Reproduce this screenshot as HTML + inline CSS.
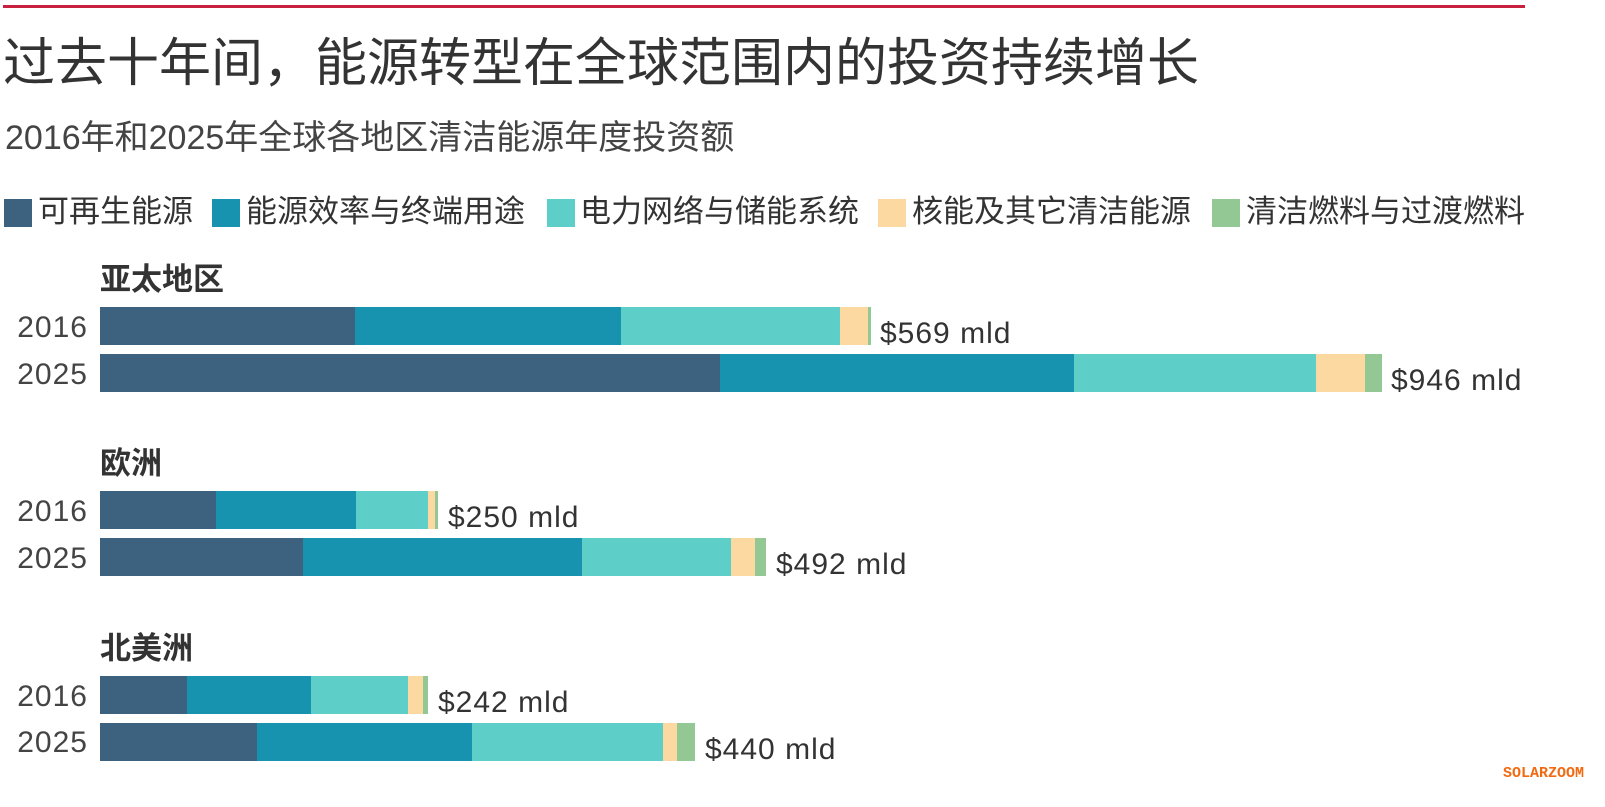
<!DOCTYPE html>
<html><head><meta charset="utf-8"><style>
body{margin:0;width:1605px;height:807px;background:#fff;position:relative;overflow:hidden;font-family:"Liberation Sans","Noto Sans CJK SC",sans-serif;color:#333}
.a{position:absolute;white-space:nowrap}
.b{position:absolute;height:38px}
.sq{position:absolute;width:28px;height:28px;top:199px}
.lg{position:absolute;top:193px;font-size:31px;line-height:38px;white-space:nowrap}
.yr{position:absolute;width:74px;left:14px;text-align:right;font-size:30px;letter-spacing:1px;line-height:38px;color:#444}
.rg{position:absolute;left:100px;font-size:31px;font-weight:bold;line-height:36px;color:#333;white-space:nowrap}
.v{position:absolute;font-size:30px;letter-spacing:1px;line-height:38px;color:#333;white-space:nowrap}
</style></head><body>
<div class="a" style="left:3px;top:5px;width:1522px;height:3px;background:#c8203f"></div>
<div class="a" style="left:3px;top:29px;font-size:52px;line-height:70px;color:#333">过去十年间，能源转型在全球范围内的投资持续增长</div>
<div class="a" style="left:5px;top:117px;font-size:34px;line-height:42px;color:#444">2016年和2025年全球各地区清洁能源年度投资额</div>
<div class="sq" style="left:4px;background:#3d627f"></div><div class="lg" style="left:38px">可再生能源</div>
<div class="sq" style="left:212px;background:#1793b0"></div><div class="lg" style="left:246px">能源效率与终端用途</div>
<div class="sq" style="left:547px;background:#5ecfc8"></div><div class="lg" style="left:580px">电力网络与储能系统</div>
<div class="sq" style="left:878px;background:#fcd9a0"></div><div class="lg" style="left:912px">核能及其它清洁能源</div>
<div class="sq" style="left:1212px;background:#93c794"></div><div class="lg" style="left:1246px">清洁燃料与过渡燃料</div>

<div class="rg" style="top:262px">亚太地区</div>
<div class="yr" style="top:309px">2016</div><div class="yr" style="top:356px">2025</div>
<div class="b" style="top:307px;left:100px;width:255px;background:#3d627f"></div>
<div class="b" style="top:307px;left:355px;width:266px;background:#1793b0"></div>
<div class="b" style="top:307px;left:621px;width:219px;background:#5ecfc8"></div>
<div class="b" style="top:307px;left:840px;width:28px;background:#fcd9a0"></div>
<div class="b" style="top:307px;left:868px;width:3px;background:#93c794"></div>
<div class="v" style="top:315px;left:880px">$569 mld</div>
<div class="b" style="top:354px;left:100px;width:620px;background:#3d627f"></div>
<div class="b" style="top:354px;left:720px;width:354px;background:#1793b0"></div>
<div class="b" style="top:354px;left:1074px;width:242px;background:#5ecfc8"></div>
<div class="b" style="top:354px;left:1316px;width:49px;background:#fcd9a0"></div>
<div class="b" style="top:354px;left:1365px;width:17px;background:#93c794"></div>
<div class="v" style="top:362px;left:1391px">$946 mld</div>

<div class="rg" style="top:446px">欧洲</div>
<div class="yr" style="top:493px">2016</div><div class="yr" style="top:540px">2025</div>
<div class="b" style="top:491px;left:100px;width:116px;background:#3d627f"></div>
<div class="b" style="top:491px;left:216px;width:140px;background:#1793b0"></div>
<div class="b" style="top:491px;left:356px;width:72px;background:#5ecfc8"></div>
<div class="b" style="top:491px;left:428px;width:7px;background:#fcd9a0"></div>
<div class="b" style="top:491px;left:435px;width:3px;background:#93c794"></div>
<div class="v" style="top:499px;left:448px">$250 mld</div>
<div class="b" style="top:538px;left:100px;width:203px;background:#3d627f"></div>
<div class="b" style="top:538px;left:303px;width:279px;background:#1793b0"></div>
<div class="b" style="top:538px;left:582px;width:149px;background:#5ecfc8"></div>
<div class="b" style="top:538px;left:731px;width:24px;background:#fcd9a0"></div>
<div class="b" style="top:538px;left:755px;width:11px;background:#93c794"></div>
<div class="v" style="top:546px;left:776px">$492 mld</div>

<div class="rg" style="top:631px">北美洲</div>
<div class="yr" style="top:678px">2016</div><div class="yr" style="top:724px">2025</div>
<div class="b" style="top:676px;left:100px;width:87px;background:#3d627f"></div>
<div class="b" style="top:676px;left:187px;width:124px;background:#1793b0"></div>
<div class="b" style="top:676px;left:311px;width:97px;background:#5ecfc8"></div>
<div class="b" style="top:676px;left:408px;width:15px;background:#fcd9a0"></div>
<div class="b" style="top:676px;left:423px;width:5px;background:#93c794"></div>
<div class="v" style="top:684px;left:438px">$242 mld</div>
<div class="b" style="top:723px;left:100px;width:157px;background:#3d627f"></div>
<div class="b" style="top:723px;left:257px;width:215px;background:#1793b0"></div>
<div class="b" style="top:723px;left:472px;width:191px;background:#5ecfc8"></div>
<div class="b" style="top:723px;left:663px;width:14px;background:#fcd9a0"></div>
<div class="b" style="top:723px;left:677px;width:18px;background:#93c794"></div>
<div class="v" style="top:731px;left:705px">$440 mld</div>

<div class="a" style="left:1503px;top:765px;font-family:'Liberation Mono',monospace;font-size:15px;font-weight:bold;color:#f26a10">SOLARZOOM</div>
</body></html>
